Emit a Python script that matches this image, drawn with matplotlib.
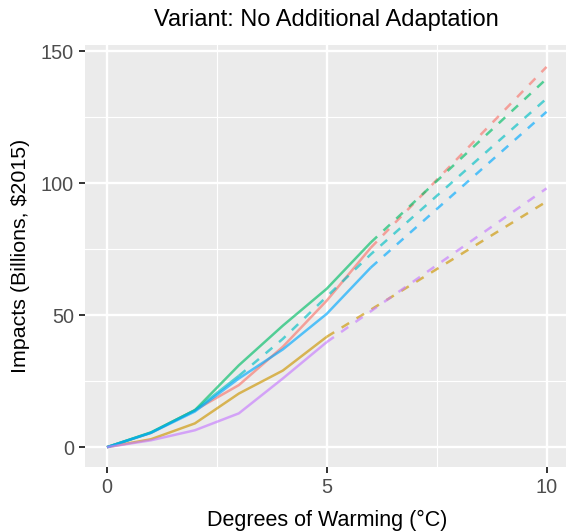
import matplotlib
matplotlib.use("Agg")
import matplotlib.pyplot as plt
from matplotlib.ticker import MultipleLocator

plt.rcParams['font.family'] = ['Liberation Sans', 'DejaVu Sans']

# ---- data ----
x_solid6 = [0, 1, 2, 3, 4, 5, 6]
x_solid5 = [0, 1, 2, 3, 4, 5]
x_solid3 = [0, 1, 2, 3]

red_solid = [0, 5.4, 14.0, 23.5, 38.0, 55.5, 75.5]
green_solid = [0, 5.6, 14.0, 31.0, 46.0, 60.0, 77.5]
blue_solid = [0, 5.4, 13.5, 26.0, 37.0, 50.5, 68.0]
teal_solid = [0, 5.5, 14.0, 27.0]
gold_solid = [0, 3.0, 9.0, 20.3, 29.0, 41.8]
purple_solid = [0, 2.6, 6.4, 12.8, 26.0, 39.8]

x_dash6 = [6, 10]
x_dash5 = [5, 10]
x_dash_teal = [3, 4, 5, 6, 10]
red_dash = [75.5, 144.0]
green_dash = [77.5, 139.5]
blue_dash = [68.0, 127.0]
teal_dash = [27.0, 41.0, 57.0, 73.0, 132.0]
gold_dash = [41.8, 93.0]
purple_dash = [39.8, 98.0]

colors = {
    'red': '#F8766D', 'gold': '#CD9600', 'green': '#00BE67',
    'teal': '#00BFC4', 'blue': '#00A9FF', 'purple': '#C77CFF',
}

W, H = 566, 531
fig = plt.figure(figsize=(W / 100, H / 100), dpi=100)
left, right, top, bottom = 85, 568.5, 45, 466.7
ax = fig.add_axes([left / W, (H - bottom) / H, (right - left) / W, (bottom - top) / H])
ax.set_facecolor('#EBEBEB')
for s in ax.spines.values():
    s.set_visible(False)

ax.xaxis.set_major_locator(MultipleLocator(5))
ax.xaxis.set_minor_locator(MultipleLocator(2.5))
ax.yaxis.set_major_locator(MultipleLocator(50))
ax.yaxis.set_minor_locator(MultipleLocator(25))
ax.grid(which='major', color='white', linewidth=1.7)
ax.grid(which='minor', color='white', linewidth=0.85)
ax.set_axisbelow(True)
ax.tick_params(which='minor', length=0)
ax.tick_params(which='major', length=4.3, width=1.4, color='#333333',
               labelsize=14.3, labelcolor='#4D4D4D', pad=3.6)

lw = 1.8
alpha = 0.65
solid = [
    (x_solid6, red_solid, 'red'), (x_solid5, gold_solid, 'gold'),
    (x_solid6, green_solid, 'green'), (x_solid3, teal_solid, 'teal'),
    (x_solid6, blue_solid, 'blue'), (x_solid5, purple_solid, 'purple'),
]
dashed = [
    (x_dash6, red_dash, 'red'), (x_dash5, gold_dash, 'gold'),
    (x_dash6, green_dash, 'green'), (x_dash_teal, teal_dash, 'teal'),
    (x_dash6, blue_dash, 'blue'), (x_dash5, purple_dash, 'purple'),
]
for xs, ys, c in solid:
    ax.plot(xs, ys, color=colors[c], lw=lw, alpha=alpha, solid_capstyle='butt')
for xs, ys, c in dashed:
    ax.plot(xs, ys, color=colors[c], lw=lw, alpha=alpha, dashes=(3.5, 3.5),
            dash_capstyle='butt')

ax.set_xlim(-0.5, 10.5)
ax.set_ylim(-7.4, 152.3)

cx = (left + right) / 2 / W
fig.text(cx, 1 - 26 / H, 'Variant: No Additional Adaptation', ha='center',
         va='baseline', fontsize=17, color='black')
fig.text(cx, 1 - 526 / H, 'Degrees of Warming (°C)', ha='center',
         va='baseline', fontsize=15.5, color='black')
fig.text(21 / W, 1 - 256 / H, 'Impacts (Billions, $2015)', ha='center',
         va='center', rotation=90, fontsize=15.4, color='black')

fig.savefig('out.png', dpi=100)
